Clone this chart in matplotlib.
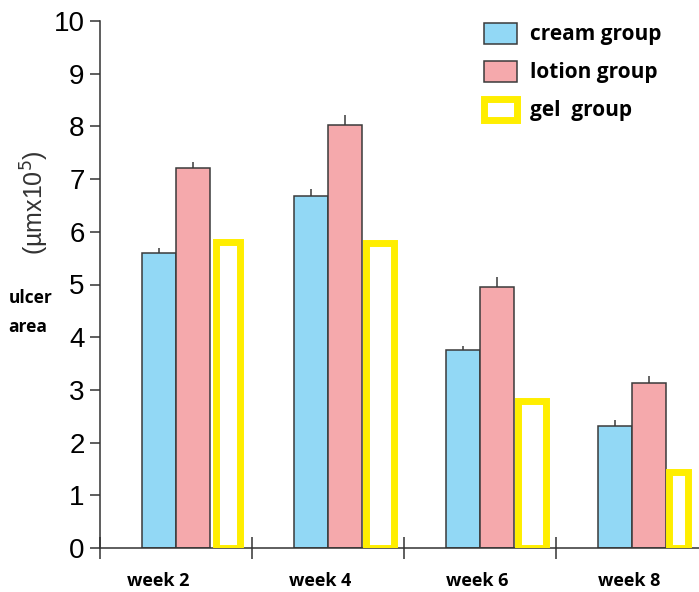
import matplotlib
matplotlib.use("Agg")
import matplotlib.pyplot as plt
import numpy as np

weeks = ["week 2", "week 4", "week 6", "week 8"]
cream = [5.59, 6.67, 3.75, 2.32]
lotion = [7.21, 8.02, 4.95, 3.13]
gel = [5.81, 5.78, 2.78, 1.44]
cream_err = [0.11, 0.15, 0.08, 0.10]
lotion_err = [0.11, 0.20, 0.20, 0.13]

# layout (group boundaries at integers)
gel_off = [0.839, 0.845, 0.845, 0.809]
gel_w = [0.158, 0.184, 0.184, 0.125]
label_off = [0.38, 0.45, 0.48, 0.48]

fig = plt.figure(figsize=(6.99, 5.92), dpi=100)
ax = fig.add_axes([100 / 699, 44 / 592, 599 / 699, 527 / 592])

x = np.arange(len(weeks))
edge = "#3a3a3a"
b1 = ax.bar(x + 0.275, cream, width=0.225, align="edge", color="#92d8f5",
            edgecolor=edge, linewidth=1.1, label="cream group", zorder=2)
b2 = ax.bar(x + 0.5, lotion, width=0.225, align="edge", color="#f5a9ac",
            edgecolor=edge, linewidth=1.1, label="lotion group", zorder=2)
b3 = ax.bar(x + np.array(gel_off), gel, width=gel_w, color="white",
            edgecolor="#ffee00", linewidth=5, label="gel  group", zorder=3)

ax.errorbar(x + 0.3875, cream, yerr=[np.zeros(4), cream_err], fmt="none",
            ecolor=edge, elinewidth=1.1, capsize=0, zorder=1)
ax.errorbar(x + 0.6125, lotion, yerr=[np.zeros(4), lotion_err], fmt="none",
            ecolor=edge, elinewidth=1.1, capsize=0, zorder=1)

ax.set_xlim(0, 599 / 152)
ax.set_ylim(0, 10)

for s in ["top", "right"]:
    ax.spines[s].set_visible(False)
for s in ["left", "bottom"]:
    ax.spines[s].set_color("#333333")
    ax.spines[s].set_linewidth(1.1)

ax.set_yticks(range(0, 11))
ax.tick_params(axis="y", direction="out", length=7, width=1.1, color="#333333",
               labelsize=20, pad=4)
for t in ax.get_yticklabels():
    t.set_family("Liberation Sans")

ax.set_xticks(x)
ax.set_xticklabels([])
ax.tick_params(axis="x", direction="inout", length=16, width=1.1, color="#333333")
for i, w in enumerate(weeks):
    ax.text(i + label_off[i], -0.45, w, ha="center", va="top", fontsize=13,
            fontweight="bold", family="Open Sans")

fig.text(0.05, 0.657, "(\u00b5mx10$^5$)", rotation=90, ha="center", va="center",
         fontsize=18, color="#333333", family="Liberation Sans")
fig.text(0.012, 0.472, "ulcer\narea", ha="left", va="center", fontsize=12.5,
         fontweight="bold", family="Open Sans", linespacing=1.75)

leg = ax.legend(handles=[b1, b2, b3], loc="upper left",
                bbox_to_anchor=(0.61, 1.032), frameon=False,
                prop={"family": "Open Sans", "weight": "bold", "size": 15},
                handlelength=1.6, handleheight=1.15, handletextpad=0.6,
                labelspacing=0.75)

fig.savefig("out.png", dpi=100)
